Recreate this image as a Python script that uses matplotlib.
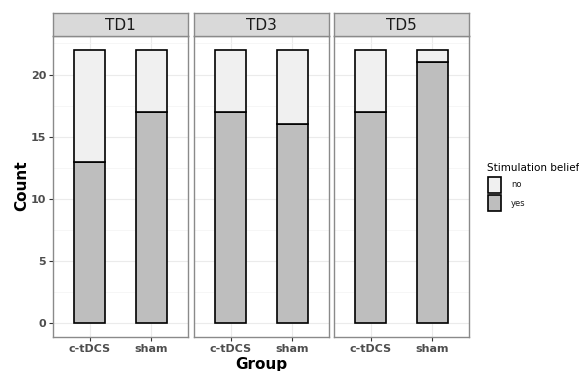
import matplotlib
matplotlib.use("Agg")
import matplotlib.pyplot as plt
from matplotlib.patches import Rectangle
from matplotlib.ticker import MultipleLocator

# data: counts per timepoint and group
timepoints = ["TD1", "TD3", "TD5"]
groups = ["c-tDCS", "sham"]
yes_counts = [[13, 17], [17, 16], [17, 21]]
no_counts = [[9, 5], [5, 6], [5, 1]]
beliefs = ["no", "yes"]

col_yes = "#bebebe"
col_no = "#f0f0f0"
border = "#8a8a8a"

fig = plt.figure(figsize=(5.79, 3.71), dpi=100)
W, H = 579.0, 371.0

panel_left = [53, 194, 334]
panel_w = 135
panel_top = 36
panel_bot = 337
strip_top = 13

axes = []
for i, td in enumerate(timepoints):
    ax = fig.add_axes([panel_left[i] / W, 1 - panel_bot / H, panel_w / W, (panel_bot - panel_top) / H])
    x = [1, 2]
    ax.bar(x, yes_counts[i], width=0.5, color=col_yes, edgecolor="black", linewidth=1.2, zorder=3)
    ax.bar(x, no_counts[i], bottom=yes_counts[i], width=0.5, color=col_no, edgecolor="black", linewidth=1.2, zorder=3)
    ax.set_xlim(0.4, 2.6)
    ax.set_ylim(-1.1, 23.1)
    ax.set_xticks(x)
    ax.set_xticklabels(groups, fontsize=8, fontweight="bold", color="#4d4d4d")
    ax.yaxis.set_major_locator(MultipleLocator(5))
    ax.yaxis.set_minor_locator(MultipleLocator(2.5))
    ax.grid(True, which="major", color="#ebebeb", linewidth=0.8, zorder=0)
    ax.grid(True, which="minor", axis="y", color="#f3f3f3", linewidth=0.5, zorder=0)
    ax.tick_params(axis="both", which="major", length=3, color="#333333", pad=2)
    ax.tick_params(axis="y", which="minor", length=0)
    if i == 0:
        for lab in ax.get_yticklabels():
            lab.set_fontsize(8)
            lab.set_fontweight("bold")
            lab.set_color("#4d4d4d")
    else:
        ax.tick_params(axis="y", which="major", length=0, labelleft=False)
    for s in ax.spines.values():
        s.set_color(border)
        s.set_linewidth(1.0)
    # facet strip
    sax = fig.add_axes([panel_left[i] / W, 1 - panel_top / H, panel_w / W, (panel_top - strip_top) / H])
    sax.set_facecolor("#d9d9d9")
    sax.set_xticks([])
    sax.set_yticks([])
    for s in sax.spines.values():
        s.set_color(border)
        s.set_linewidth(1.0)
    sax.text(0.5, 0.45, td, ha="center", va="center", fontsize=11, color="#1a1a1a", transform=sax.transAxes)
    axes.append(ax)

fig.text(261 / W, 1 - 364 / H, "Group", ha="center", va="center", fontsize=11, fontweight="bold")
fig.text(22 / W, 1 - 186 / H, "Count", ha="center", va="center", rotation=90, fontsize=11, fontweight="bold")

# legend
fig.text(487 / W, 1 - 168 / H, "Stimulation belief", ha="left", va="center", fontsize=7.5)
key_cols = [col_no, col_yes]
for j, b in enumerate(beliefs):
    ytop = 177 + j * 18
    fig.add_artist(Rectangle((488 / W, 1 - (ytop + 16) / H), 13 / W, 16 / H,
                             transform=fig.transFigure, facecolor=key_cols[j],
                             edgecolor="black", linewidth=1.2))
    fig.text(511 / W, 1 - (ytop + 8) / H, b, ha="left", va="center", fontsize=6, color="#1a1a1a")

fig.savefig("out.png", dpi=100)
